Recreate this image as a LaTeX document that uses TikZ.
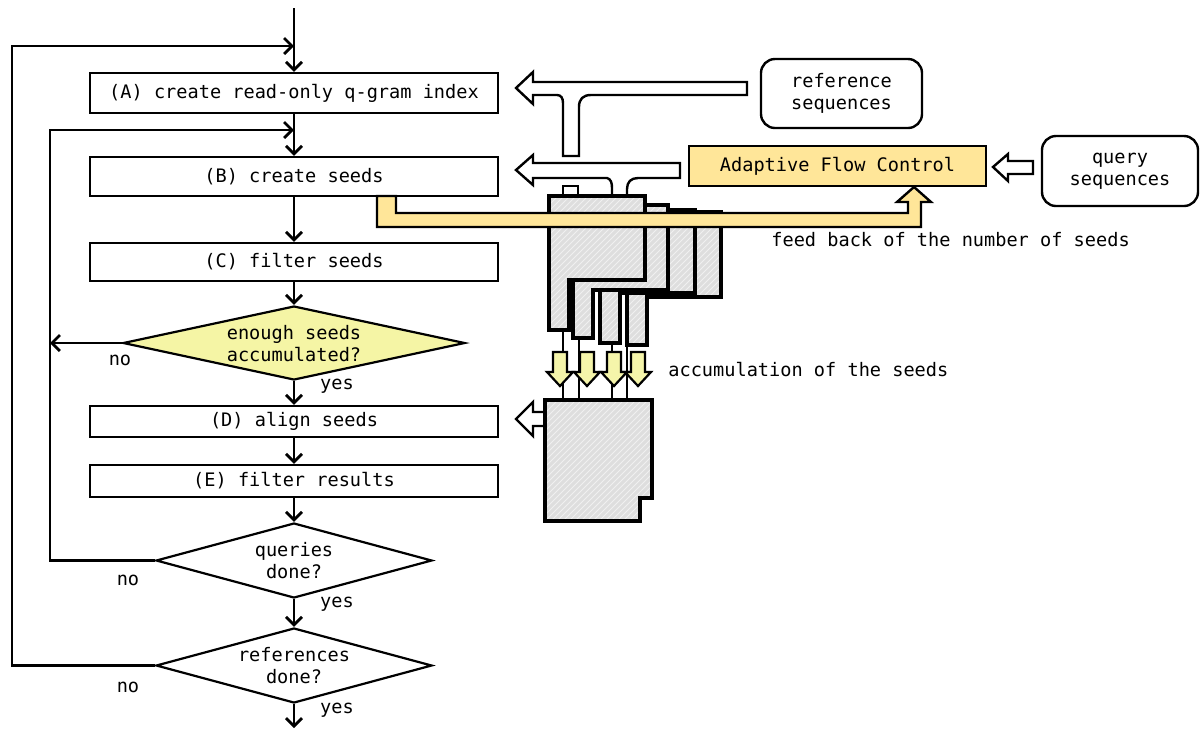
\documentclass[tikz,border=0pt]{standalone}
\usepackage{fontspec}
\setmainfont{DejaVu Sans Mono}
\usetikzlibrary{shapes.geometric,arrows.meta,patterns}
\definecolor{decfill}{RGB}{245,245,165}
\definecolor{ctrlfill}{RGB}{255,230,153}
\definecolor{dropfill}{RGB}{245,245,170}
\definecolor{blockgray}{RGB}{222,222,222}
\tikzset{
  flow/.style={line width=1.1pt, -{Straight Barb[length=4pt,width=8pt,line width=1.4pt]}},
  procbox/.style={draw, line width=1.1pt, fill=white, minimum width=204pt, inner sep=0pt},
  decision/.style={diamond, draw, line width=1.1pt, inner sep=0pt},
  dtext/.style={align=center, inner sep=0pt},
  source/.style={draw, rounded corners=7pt, line width=1.2pt, align=center},
  hollow/.style={draw, fill=white, line width=1.2pt, line join=miter},
  stack/.style={preaction={fill=blockgray},
    preaction={pattern=north east lines, pattern color=black!6},
    draw, line width=1.8pt, line join=miter},
  drop/.style={draw, line width=1.1pt, line join=miter, fill=dropfill},
  band/.style={draw, line width=1.2pt, line join=miter, fill=ctrlfill},
  caption/.style={inner sep=0pt, anchor=west},
  tag/.style={inner sep=0pt},
  feed/.style={line width=1pt},
}
\begin{document}
\begin{tikzpicture}[x=0.5pt, y=-0.5pt, font=\fontsize{9.3}{11}\selectfont]
\useasboundingbox (0,0) rectangle (1200,730);

% ---------- main flow ----------
\node[procbox, minimum height=20pt]   (A) at (294,93)    {(A) create read-only q-gram index};
\node[procbox, minimum height=19.5pt] (B) at (294,176.5) {(B) create seeds};
\node[procbox, minimum height=19pt]   (C) at (294,262)   {(C) filter seeds};
\node[decision, fill=decfill, minimum width=171pt, minimum height=37pt] (Q1) at (294,343) {};
\node[dtext] (Q1t) at (294,344) {enough seeds\\accumulated?};
\node[procbox, minimum height=15.5pt] (D) at (294,421.5) {(D) align seeds};
\node[procbox, minimum height=16pt]   (E) at (294,481)   {(E) filter results};
\node[decision, fill=white, minimum width=138pt, minimum height=37.5pt] (Q2) at (294,560.5) {};
\node[dtext] (Q2t) at (294,561) {queries\\done?};
\node[decision, fill=white, minimum width=138pt, minimum height=37.5pt] (Q3) at (294,665.5) {};
\node[dtext] (Q3t) at (294,666) {references\\done?};

\coordinate (start)  at (294,8);
\coordinate (outer)  at (12,46);
\coordinate (inner)  at (50,130);
\coordinate (finish) at (294,728);

\draw[flow] (start) -- (A);
\draw[flow] (A) -- (B);
\draw[flow] (B) -- (C);
\draw[flow] (C) -- (Q1);
\draw[flow] (Q1) -- (D);
\draw[flow] (D) -- (E);
\draw[flow] (E) -- (Q2);
\draw[flow] (Q2) -- (Q3);
\draw[flow] (Q3) -- (finish);
\draw[flow] (Q3.west) -- (Q3.west -| outer) -- (outer) -- (outer -| A.north);
\draw[flow] (Q2.west) -- (Q2.west -| inner) -- (inner) -- (inner -| B.north);
\draw[flow] (Q1.west) -- (Q1.west -| inner);

\node[tag] (no1)  at (120,360) {no};
\node[tag] (yes1) at (337,386) {yes};
\node[tag] (no2)  at (128,580) {no};
\node[tag] (yes2) at (337,604) {yes};
\node[tag] (no3)  at (128,687) {no};
\node[tag] (yes3) at (337,710) {yes};

% ---------- reference data pipe (T shaped) into (A) ----------
\draw[hollow] (516,88) -- (533,72) -- (533,82) -- (747,82) -- (747,95) -- (591,95)
  .. controls (583,95) and (579,99) .. (579,107) -- (579,156) -- (563,156) -- (563,103)
  .. controls (563,98) and (561,95) .. (557,95) -- (533,95) -- (533,104) -- cycle;

% ---------- seed pipe into (B) ----------
\draw[hollow] (516,170) -- (533,155) -- (533,163) -- (680,163) -- (680,178) -- (638,178)
  .. controls (631,178) and (627,182) .. (627,189) -- (627,197) -- (612,197) -- (612,188)
  .. controls (612,183) and (611,179) .. (607,178) -- (533,178) -- (533,185) -- cycle;
\draw[hollow] (563,186) rectangle (578,197);

% ---------- stacked seed blocks (back to front) ----------
\draw[stack] (627,212) -- (721,212) -- (721,297) -- (647,297) -- (647,345) -- (627,345) -- cycle;
\draw[stack] (600,210) -- (695,210) -- (695,293) -- (620,293) -- (620,343) -- (600,343) -- cycle;
\draw[stack] (573,205) -- (668,205) -- (668,290) -- (593,290) -- (593,338) -- (573,338) -- cycle;
\draw[stack] (549,196) -- (645,196) -- (645,280) -- (569,280) -- (569,330) -- (549,330) -- cycle;

% ---------- feedback band to the flow control ----------
\draw[band] (377,196) -- (396,196) -- (396,213) -- (908,213) -- (908,202) -- (897,202)
  -- (914,187) -- (931,202) -- (921,202) -- (921,227) -- (377,227) -- cycle;

% ---------- accumulation of the seeds ----------
\draw[feed] (563,330) -- (563,401);
\draw[feed] (579,338) -- (579,401);
\draw[feed] (612,343) -- (612,401);
\draw[feed] (627,345) -- (627,401);
\foreach \cx in {560,587,614,638}{
  \draw[drop] (\cx-7,352) -- (\cx+7,352) -- (\cx+7,372) -- (\cx+13,372) -- (\cx,386)
    -- (\cx-13,372) -- (\cx-7,372) -- cycle;
}
\draw[hollow] (516,419) -- (533,402) -- (533,412) -- (548,412) -- (548,426) -- (533,426) -- (533,436) -- cycle;
\draw[stack] (545,400) -- (652,400) -- (652,498) -- (640,498) -- (640,521) -- (545,521) -- cycle;

% ---------- control and inputs ----------
\node[draw, line width=1.2pt, fill=ctrlfill, minimum width=148.5pt, minimum height=20pt, inner sep=0pt]
  (AFC) at (837.5,166) {Adaptive Flow Control};
\node[source, minimum width=80.5pt, minimum height=34.5pt] (ref) at (841.5,93.5) {reference\\sequences};
\node[source, minimum width=78pt, minimum height=35pt] (qry) at (1120,171) {query\\sequences};
\draw[hollow] (993,167) -- (1008,154) -- (1008,161) -- (1033,161) -- (1033,174) -- (1008,174) -- (1008,181) -- cycle;

\node[caption] (acc) at (668,370) {accumulation of the seeds};
\node[caption] (fb)  at (771,240) {feed back of the number of seeds};
\end{tikzpicture}
\end{document}
